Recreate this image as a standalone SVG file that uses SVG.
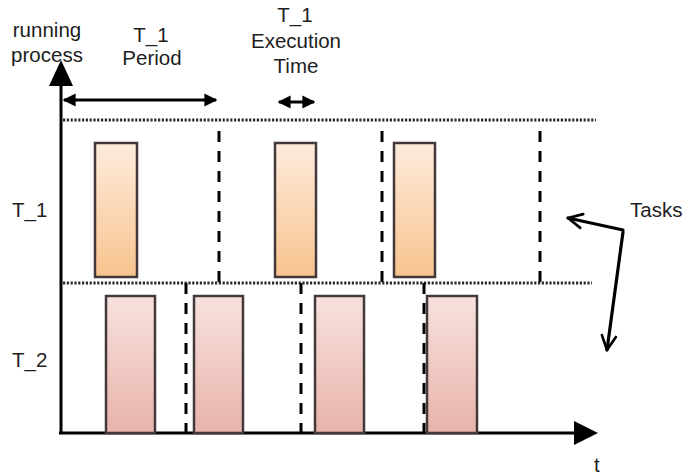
<svg xmlns="http://www.w3.org/2000/svg" width="684" height="475" viewBox="0 0 684 475">
  <style>
    .lbl { font-family: "Liberation Sans", Arial, sans-serif; font-size: 20.5px; fill: #1e1e1e; }
    .mid { text-anchor: middle; }
    .axis { stroke: #000; stroke-width: 3; fill: none; }
    .dot { stroke: #2a2a2a; stroke-width: 3; stroke-dasharray: 2.2 1.6; fill: none; }
    .dash { stroke: #000; stroke-width: 3; stroke-dasharray: 11 9; fill: none; }
    .t1 { fill: url(#g1); stroke: #43393a; stroke-width: 2.5; }
    .t2 { fill: url(#g2); stroke: #43393a; stroke-width: 2.5; }
    .span { stroke: #000; stroke-width: 3; fill: none; }
    .ptr { stroke: #000; stroke-width: 3.2; fill: none; stroke-linecap: round; }
  </style>
  <defs>
    <linearGradient id="g1" x1="0" y1="0" x2="0" y2="1">
      <stop offset="0" stop-color="#fdebdc"/>
      <stop offset="1" stop-color="#f8c38e"/>
    </linearGradient>
    <linearGradient id="g2" x1="0" y1="0" x2="0" y2="1">
      <stop offset="0" stop-color="#f7e1dd"/>
      <stop offset="1" stop-color="#e8b3aa"/>
    </linearGradient>
    <marker id="tri" viewBox="0 0 10 10" refX="9" refY="5" markerWidth="4.3" markerHeight="5.6" markerUnits="strokeWidth" orient="auto-start-reverse">
      <path d="M0,0 L10,5 L0,10 z" fill="#000"/>
    </marker>
    <marker id="vee" viewBox="0 0 10 10" refX="9" refY="5" markerWidth="5.5" markerHeight="5.5" markerUnits="strokeWidth" orient="auto">
      <path d="M1,1 L9,5 L1,9" fill="none" stroke="#000" stroke-width="1.5" stroke-linecap="round" stroke-linejoin="round"/>
    </marker>
  </defs>

  <!-- axes -->
  <g id="axes">
    <line class="axis" x1="61" y1="434" x2="61" y2="82"/>
    <path d="M61,60 L73,86 L49,86 z" fill="#000"/>
    <line class="axis" x1="59" y1="433" x2="575" y2="433"/>
    <path d="M598,433 L574,421 L574,445 z" fill="#000"/>
    <text class="lbl mid" x="47" y="37">running</text>
    <text class="lbl mid" x="47" y="62">process</text>
    <text class="lbl" x="594" y="472">t</text>
  </g>

  <!-- row separators -->
  <g id="rows">
    <line class="dot" x1="63" y1="120" x2="596" y2="120"/>
    <line class="dot" x1="63" y1="283" x2="592" y2="283"/>
    <text class="lbl" x="12" y="217">T_1</text>
    <text class="lbl" x="12" y="367">T_2</text>
  </g>

  <!-- period boundaries -->
  <g id="period-marks">
    <line class="dash" x1="219" y1="131" x2="219" y2="283"/>
    <line class="dash" x1="382" y1="131" x2="382" y2="283"/>
    <line class="dash" x1="540" y1="131" x2="540" y2="283"/>
    <line class="dash" x1="186" y1="283" x2="186" y2="433"/>
    <line class="dash" x1="301" y1="283" x2="301" y2="433"/>
    <line class="dash" x1="424" y1="283" x2="424" y2="433"/>
  </g>

  <!-- task T_1 executions -->
  <g id="task1">
    <rect class="t1" x="95" y="143" width="42" height="134"/>
    <rect class="t1" x="275" y="143" width="41" height="134"/>
    <rect class="t1" x="394" y="143" width="41" height="134"/>
  </g>

  <!-- task T_2 executions -->
  <g id="task2">
    <rect class="t2" x="106" y="296" width="49" height="137"/>
    <rect class="t2" x="194" y="296" width="49" height="137"/>
    <rect class="t2" x="315" y="296" width="49" height="137"/>
    <rect class="t2" x="427" y="296" width="50" height="137"/>
  </g>

  <!-- period and execution-time spans -->
  <g id="period">
    <line class="span" x1="64" y1="100" x2="216" y2="100" marker-start="url(#tri)" marker-end="url(#tri)"/>
    <text class="lbl mid" x="151" y="42">T_1</text>
    <text class="lbl mid" x="152" y="65">Period</text>
  </g>
  <g id="exec-time">
    <line class="span" x1="279" y1="102" x2="314" y2="102" marker-start="url(#tri)" marker-end="url(#tri)"/>
    <text class="lbl mid" x="295" y="22">T_1</text>
    <text class="lbl mid" x="296" y="48">Execution</text>
    <text class="lbl mid" x="296" y="73">Time</text>
  </g>

  <!-- tasks callout -->
  <g id="tasks">
    <text class="lbl" x="630" y="217">Tasks</text>
    <g id="connectors">
      <line class="ptr" x1="623" y1="230" x2="568" y2="218" marker-end="url(#vee)"/>
      <line class="ptr" x1="623" y1="232" x2="607" y2="350" marker-end="url(#vee)"/>
    </g>
  </g>
</svg>
